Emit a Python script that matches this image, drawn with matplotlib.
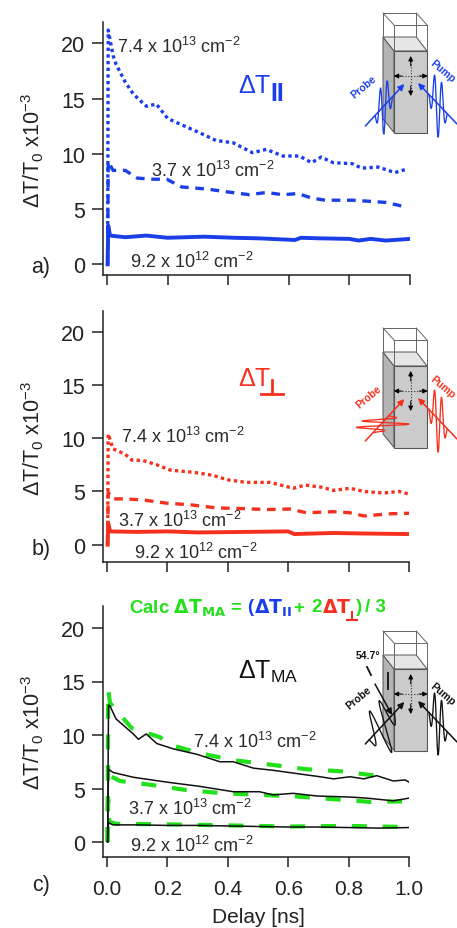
import numpy as np
import matplotlib
matplotlib.use('Agg')
import matplotlib.pyplot as plt
from matplotlib.patches import Polygon

plt.rcParams['font.family'] = ['Liberation Sans', 'DejaVu Sans']
plt.rcParams['mathtext.default'] = 'regular'

W, H = 457, 929
BLUE = '#1a3fe8'
RED = '#f5301e'
GREEN = '#22e01a'
TEXT = '#2a2a2a'

ticks_y = [0, 5, 10, 15, 20]
ticks_x = [0.0, 0.2, 0.4, 0.6, 0.8, 1.0]

# a) parallel
a_high_t = [0.002, 0.004, 0.02, 0.03, 0.06, 0.087, 0.13, 0.163, 0.2, 0.24, 0.306, 0.36, 0.416, 0.48, 0.526, 0.58, 0.635, 0.675, 0.707, 0.746, 0.81, 0.84, 0.895, 0.95, 0.988]
a_high_v = [0, 21.2, 18.9, 18.1, 16.5, 15.4, 14.3, 14.5, 13.2, 12.7, 11.9, 11.2, 11.0, 10.1, 10.4, 9.8, 9.8, 9.2, 9.7, 9.2, 9.1, 8.7, 8.8, 8.3, 8.6]
a_mid_t = [0.002, 0.004, 0.02, 0.06, 0.1, 0.153, 0.197, 0.246, 0.334, 0.384, 0.47, 0.526, 0.58, 0.63, 0.675, 0.72, 0.81, 0.867, 0.92, 0.977]
a_mid_v = [0, 9.3, 8.5, 8.5, 7.8, 7.7, 7.7, 7.0, 6.8, 6.6, 6.3, 6.5, 6.3, 6.4, 6.0, 5.8, 5.8, 5.7, 5.6, 5.25]
a_low_t = [0.002, 0.004, 0.01, 0.06, 0.13, 0.2, 0.32, 0.42, 0.5, 0.62, 0.64, 0.7, 0.8, 0.83, 0.87, 0.92, 1.0]
a_low_v = [0, 3.5, 2.6, 2.45, 2.6, 2.4, 2.5, 2.4, 2.35, 2.2, 2.4, 2.35, 2.3, 2.15, 2.3, 2.15, 2.3]

# b) perpendicular
b_high_t = [0.002, 0.004, 0.02, 0.06, 0.082, 0.12, 0.165, 0.21, 0.287, 0.353, 0.398, 0.46, 0.54, 0.617, 0.656, 0.71, 0.75, 0.805, 0.85, 0.916, 0.966, 1.0]
b_high_v = [0, 10.4, 9.0, 8.5, 7.95, 7.9, 7.5, 7.0, 6.8, 6.5, 6.1, 5.85, 5.85, 5.3, 5.6, 5.4, 5.1, 5.3, 5.0, 4.85, 5.0, 4.75]
b_mid_t = [0.002, 0.004, 0.02, 0.06, 0.12, 0.197, 0.275, 0.364, 0.44, 0.53, 0.606, 0.66, 0.75, 0.805, 0.85, 0.937, 1.0]
b_mid_v = [0, 4.9, 4.3, 4.3, 4.2, 3.9, 3.75, 3.45, 3.4, 3.3, 3.35, 3.0, 3.1, 3.0, 2.7, 2.9, 2.95]
b_low_t = [0.002, 0.004, 0.01, 0.1, 0.2, 0.3, 0.46, 0.6, 0.62, 0.75, 0.85, 1.0]
b_low_v = [0, 2.0, 1.25, 1.2, 1.25, 1.15, 1.2, 1.25, 1.0, 1.1, 1.05, 1.0]

# c) magic angle, measured
c_high_t = [0.002, 0.005, 0.01, 0.03, 0.087, 0.104, 0.13, 0.165, 0.22, 0.297, 0.374, 0.418, 0.485, 0.55, 0.64, 0.705, 0.75, 0.805, 0.85, 0.893, 0.948, 0.987, 1.0]
c_high_v = [0, 12.8, 12.7, 11.5, 10.1, 9.6, 10.1, 9.2, 8.7, 8.2, 7.5, 7.5, 6.9, 6.7, 6.35, 6.1, 5.9, 6.1, 5.9, 6.2, 5.7, 5.8, 5.6]
c_mid_t = [0.002, 0.005, 0.02, 0.087, 0.197, 0.307, 0.418, 0.505, 0.55, 0.616, 0.695, 0.805, 0.86, 0.948, 1.0]
c_mid_v = [0, 6.8, 6.5, 6.05, 5.6, 5.2, 4.7, 4.7, 4.4, 4.55, 4.3, 4.2, 4.1, 3.85, 4.1]
c_low_t = [0.002, 0.005, 0.02, 0.1, 0.2, 0.3, 0.4, 0.5, 0.6, 0.7, 0.8, 0.9, 1.0]
c_low_v = [0, 1.8, 1.6, 1.6, 1.55, 1.55, 1.5, 1.45, 1.4, 1.4, 1.35, 1.3, 1.35]

# c) calculated from a and b
g_high_t = [0.002, 0.004, 0.01, 0.027, 0.082, 0.175, 0.208, 0.307, 0.418, 0.55, 0.66, 0.78, 0.916]
g_high_v = [0, 14.2, 13.0, 12.4, 10.65, 9.8, 9.1, 8.3, 7.65, 7.2, 6.8, 6.6, 6.1]
g_mid_t = [0.002, 0.004, 0.008, 0.043, 0.143, 0.264, 0.385, 0.517, 0.628, 0.75, 0.87, 1.0]
g_mid_v = [0, 7.3, 6.2, 5.7, 5.35, 4.85, 4.55, 4.4, 4.25, 4.0, 3.75, 3.8]
g_low_t = [0.002, 0.004, 0.007, 0.03, 0.2, 0.4, 0.6, 0.8, 1.0]
g_low_v = [0, 4.0, 1.9, 1.7, 1.65, 1.55, 1.45, 1.5, 1.4]

dens_high = '7.4 x 10$^{13}$ cm$^{-2}$'
dens_mid = '3.7 x 10$^{13}$ cm$^{-2}$'
dens_low = '9.2 x 10$^{12}$ cm$^{-2}$'


def make_axes(fig, top, bottom, y0, y20, right):
    left = 103
    ax = fig.add_axes([left / W, 1 - bottom / H, (right - left) / W, (bottom - top) / H])
    scale = (y0 - y20) / 20
    ax.set_ylim((y0 - bottom) / scale, (y0 - top) / scale)
    ax.set_xlim((left - 107) / (right - 107), 1.0)
    ax.spines['top'].set_visible(False)
    ax.spines['right'].set_visible(False)
    ax.spines['left'].set_linewidth(1.1)
    ax.spines['bottom'].set_linewidth(1.1)
    ax.spines['left'].set_color('#222222')
    ax.spines['bottom'].set_color('#222222')
    ax.set_yticks(ticks_y)
    ax.set_xticks(ticks_x)
    ax.tick_params(axis='y', length=8, width=1.1, labelsize=15.5, pad=5, colors='#222222')
    ax.tick_params(axis='x', length=7, width=1.1, labelsize=15, pad=9, colors='#222222')
    ax.patch.set_alpha(0)
    return ax


def box(ov, ox, oy):
    # cuvette drawn in pixel coordinates of the overlay
    p = lambda x, y: (ox + x, oy + y)
    ov.add_patch(Polygon([p(0, 24), p(11, 38), p(11, 119.5), p(0, 106)], fc='#b4b4b4', ec='#555555', lw=0.7))
    ov.add_patch(Polygon([p(0, 24), p(33.3, 24), p(44, 38), p(11, 38)], fc='#e6e6e6', ec='#555555', lw=0.7))
    ov.add_patch(Polygon([p(11, 38), p(44, 38), p(44, 119.5), p(11, 119.5)], fc='#cbcbcb', ec='#555555', lw=0.8))
    for a, b in [((0, 0), (33.3, 0)), ((33.3, 0), (44, 12)), ((44, 12), (11, 12)), ((11, 12), (0, 0)),
                 ((0, 0), (0, 24)), ((33.3, 0), (33.3, 24)), ((44, 12), (44, 38)), ((11, 12), (11, 38))]:
        ov.plot([ox + a[0], ox + b[0]], [oy + a[1], oy + b[1]], color='#666666', lw=0.7)
    cx, cy = 27.7, 63
    ov.plot([ox + cx - 15, ox + cx + 15], [oy + cy, oy + cy], color='#333333', lw=0.8, ls=':')
    ov.plot([ox + cx, ox + cx], [oy + cy - 18, oy + cy + 18], color='#333333', lw=0.8, ls=':')
    for dx, dy in [(-17, 0), (17, 0), (0, -20), (0, 20)]:
        ov.annotate('', xy=(ox + cx + dx, oy + cy + dy), xytext=(ox + cx + dx * 0.5, oy + cy + dy * 0.5),
                    arrowprops=dict(arrowstyle='-|>', color='black', lw=0.7, mutation_scale=7, shrinkA=0, shrinkB=0))


def beam(ov, start, end, color, lw=1.1):
    ov.annotate('', xy=end, xytext=start,
                arrowprops=dict(arrowstyle='-|>', color=color, lw=lw, mutation_scale=9, shrinkA=0, shrinkB=0))


def wave(ov, start, end, f0, f1, pol, amp, cycles, color):
    s = np.linspace(0, 1, 200)
    f = f0 + (f1 - f0) * s
    env = np.exp(-((s - 0.5) / 0.38) ** 2)
    osc = amp * env * np.sin(2 * np.pi * cycles * s)
    x = start[0] + (end[0] - start[0]) * f + pol[0] * osc
    y = start[1] + (end[1] - start[1]) * f + pol[1] * osc
    ov.plot(x, y, color=color, lw=0.95)


def schematic(ov, oy, color, probe_pol, probe_amp, probe_span):
    ox = 383
    box(ov, ox, oy)
    ps, pe = (ox - 17.7, oy + 113), (ox + 21.3, oy + 71)
    us, ue = (ox + 74, oy + 111), (ox + 35, oy + 70)
    wave(ov, ps, pe, probe_span[0], probe_span[1], probe_pol, probe_amp, 2.5, color)
    wave(ov, us, ue, 0.25, 0.72, (0, 1), 33, 2.5, color)
    beam(ov, ps, pe, color)
    beam(ov, us, ue, color)


fig = plt.figure(figsize=(W / 100, H / 100), dpi=100)

ax_a = make_axes(fig, 23, 276, 265.3, 44.3, 410)
ax_a.plot(a_high_t, a_high_v, color=BLUE, lw=2.4, ls=(0, (1, 1)))
ax_a.plot(a_mid_t, a_mid_v, color=BLUE, lw=2.4, ls=(0, (2.6, 2)))
ax_a.plot(a_low_t, a_low_v, color=BLUE, lw=2.8)
ax_a.set_xticklabels([])

ax_b = make_axes(fig, 312, 563, 545.7, 332.7, 409)
ax_b.plot(b_high_t, b_high_v, color=RED, lw=2.4, ls=(0, (1, 1)))
ax_b.plot(b_mid_t, b_mid_v, color=RED, lw=2.4, ls=(0, (2.6, 2)))
ax_b.plot(b_low_t, b_low_v, color=RED, lw=2.8)
ax_b.set_xticklabels([])

ax_c = make_axes(fig, 607, 858, 843, 629, 409)
for t, v in [(g_high_t, g_high_v), (g_mid_t, g_mid_v), (g_low_t, g_low_v)]:
    ax_c.plot(t, v, color=GREEN, lw=3, ls=(0, (3.6, 3.8)))
for t, v in [(c_high_t, c_high_v), (c_mid_t, c_mid_v), (c_low_t, c_low_v)]:
    ax_c.plot(t, v, color='#111111', lw=1.1)
ax_c.set_xticklabels(['0.0', '0.2', '0.4', '0.6', '0.8', '1.0'])

# overlay in pixel coordinates for labels and the cuvette sketches
ov = fig.add_axes([0, 0, 1, 1], zorder=5)
ov.set_xlim(0, W)
ov.set_ylim(H, 0)
ov.axis('off')

for yc in [150, 438, 732]:
    ov.text(33, yc, '$\\Delta$T/T$_0$ x10$^{-3}$', rotation=90, fontsize=15.5, color='#222222', ha='center', va='center')
for s, y in [('a)', 267), ('b)', 550), ('c)', 886)]:
    ov.text(41, y, s, fontsize=15.5, color='#222222', ha='center', va='center')
ov.text(258, 918, 'Delay [ns]', fontsize=15, color='#222222', ha='center', va='center')

for s, x, y in [(dens_high, 117, 47), (dens_mid, 151, 171), (dens_low, 130, 262),
                (dens_high, 121, 437), (dens_mid, 118, 521), (dens_low, 134, 553),
                (dens_high, 193, 742), (dens_mid, 128, 809), (dens_low, 130, 846)]:
    ov.text(x, y, s, fontsize=13, color=TEXT, ha='left', va='center')

ov.text(238, 86, '$\\Delta$T', fontsize=18, color=BLUE, ha='left', va='center')
ov.text(270, 94, 'II', fontsize=18, color=BLUE, ha='left', va='center', fontweight='bold')
ov.text(238, 379, '$\\Delta$T', fontsize=18, color=RED, ha='left', va='center')
ov.plot([261, 283], [395, 395], color=RED, lw=2)
ov.plot([272, 272], [381, 395], color=RED, lw=2)
ov.text(238, 672, '$\\Delta$T$_{MA}$', fontsize=18, color='#111111', ha='left', va='center')

# multicoloured title of panel c
for s, x, col in [('Calc $\\mathbf{\\Delta T_{MA}}$', 129, GREEN), ('=', 230, GREEN), ('(', 247, BLUE),
                  ('$\\mathbf{\\Delta T_{II}}$', 254, BLUE), ('+', 293, GREEN), ('2', 311, GREEN),
                  ('$\\mathbf{\\Delta T}$', 322, RED), (')', 356, GREEN), ('/ 3', 365, GREEN)]:
    ov.text(x, 608, s, fontsize=13.5, color=col, fontweight='bold', ha='left', va='center')
ov.plot([347, 357], [621, 621], color=RED, lw=1.5)
ov.plot([352, 352], [613, 621], color=RED, lw=1.5)

schematic(ov, 14, BLUE, (0, 1), 28, (0.25, 0.7))
ov.text(364, 87, 'Probe', fontsize=7.5, fontweight='bold', color=BLUE, rotation=40, ha='center', va='center')
ov.text(443, 71, 'Pump', fontsize=7.5, fontweight='bold', color=BLUE, rotation=-40, ha='center', va='center')

schematic(ov, 329, RED, (1, 0), 28, (0.2, 0.6))
ov.text(369, 397, 'Probe', fontsize=7.5, fontweight='bold', color=RED, rotation=40, ha='center', va='center')
ov.text(443, 387, 'Pump', fontsize=7.5, fontweight='bold', color=RED, rotation=-40, ha='center', va='center')

schematic(ov, 632, '#111111', (0.35, 0.94), 28, (0.1, 0.75))
ov.text(359, 698, 'Probe', fontsize=7.5, fontweight='bold', color='#111111', rotation=40, ha='center', va='center')
ov.text(443, 694, 'Pump', fontsize=7.5, fontweight='bold', color='#111111', rotation=-40, ha='center', va='center')
ov.text(368, 656, '54.7°', fontsize=7.5, fontweight='bold', color='#111111', ha='center', va='center')
ov.plot([367, 371], [668, 676], color='#111111', lw=1.3)
ov.plot([388, 388], [674, 690], color='#111111', lw=1.3)
beam(ov, (375, 685), (392, 716), '#111111')

fig.savefig('out.png', dpi=100)
